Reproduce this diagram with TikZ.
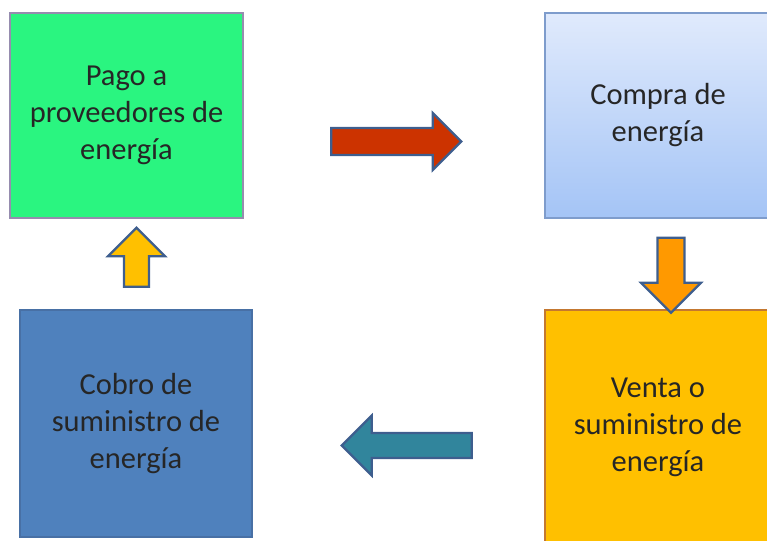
\documentclass[tikz,border=0pt]{standalone}
\usepackage{fontspec}
\setmainfont{Carlito}
\usetikzlibrary{shapes.arrows}

\definecolor{verdeCaja}{RGB}{42,245,128}
\definecolor{bordeVerde}{RGB}{150,140,175}
\definecolor{celesteSup}{RGB}{224,234,252}
\definecolor{celesteInf}{RGB}{164,196,246}
\definecolor{bordeCeleste}{RGB}{126,156,204}
\definecolor{naranjaCaja}{RGB}{255,192,0}
\definecolor{bordeNaranja}{RGB}{196,120,48}
\definecolor{azulCaja}{RGB}{79,129,189}
\definecolor{bordeAzul}{RGB}{72,112,165}
\definecolor{rojoFlecha}{RGB}{204,51,0}
\definecolor{naranjaFlecha}{RGB}{255,153,0}
\definecolor{tealFlecha}{RGB}{49,133,156}
\definecolor{bordeFlecha}{RGB}{62,94,142}
\definecolor{texto}{RGB}{38,38,38}

\begin{document}
\begin{tikzpicture}[x=1pt, y=-1pt]
\useasboundingbox (0,0) rectangle (767,540);
\clip (0,0) rectangle (767,540);

% Cajas
\begin{scope}[
		every node/.style = {shape = rectangle, line width = 1.2pt,
		minimum width = 233pt, minimum height = 205pt, align = center,
		text = texto, font = \fontsize{30.5}{37}\selectfont}]
	\node[fill = verdeCaja, draw = bordeVerde] (pago) at (126.5,115.5)
		{Pago a\\proveedores de\\energía};
	\node[top color = celesteSup, bottom color = celesteInf, draw = bordeCeleste,
		minimum width = 226pt] (compra) at (658,115.5) {Compra de\\energía};
	\node[fill = naranjaCaja, draw = bordeNaranja, minimum width = 226pt,
		minimum height = 234pt] (venta) at (658,427) {Venta o\\suministro de\\energía};
	\node[fill = azulCaja, draw = bordeAzul, minimum width = 232pt,
		minimum height = 227pt] (cobro) at (136,423.5) {Cobro de\\suministro de\\energía};
\end{scope}

% Flechas
\begin{scope}[
		every node/.style = {shape = single arrow, draw = bordeFlecha,
		line width = 2.2pt, inner xsep = 0pt, single arrow head indent = 0pt}]
	\node[fill = rojoFlecha, inner ysep = 12.4pt, single arrow head extend = 15pt,
		minimum height = 130pt] (haciaCompra) at (389.5,141.5) {};
	\node[fill = naranjaFlecha, inner ysep = 12.4pt, single arrow head extend = 16.5pt,
		minimum height = 75pt, rotate = -90] (haciaVenta) at (671,268.5) {};
	\node[fill = tealFlecha, inner ysep = 11.4pt, single arrow head extend = 17.5pt,
		minimum height = 130pt, rotate = 180] (haciaCobro) at (413,445.5) {};
	\node[fill = naranjaCaja, inner ysep = 11.4pt, single arrow head extend = 16pt,
		minimum height = 59pt, rotate = 90] (haciaPago) at (136.5,263.5) {};
\end{scope}
\end{tikzpicture}
\end{document}
